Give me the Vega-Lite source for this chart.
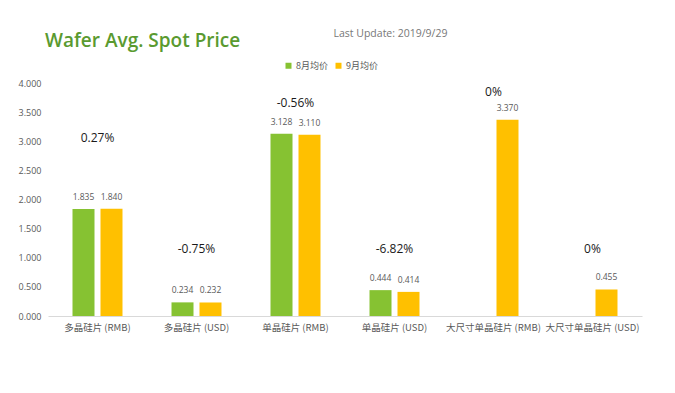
{
  "$schema": "https://vega.github.io/schema/vega-lite/v6.json",
  "width": 594,
  "height": 233,
  "autosize": {"type": "none"},
  "padding": {"left": 48, "top": 83, "right": 33, "bottom": 77},
  "background": "white",
  "title": {
    "text": "Wafer Avg. Spot Price",
    "anchor": "start",
    "frame": "group",
    "dx": -3,
    "offset": 0,
    "dy": 23,
    "font": "Open Sans",
    "fontSize": 19,
    "fontWeight": 600,
    "color": "#5a9a30"
  },
  "config": {
    "view": {"stroke": null},
    "font": "Open Sans"
  },
  "datasets": {
    "prices": [
      {"category": "多晶硅片 (RMB)", "month": "8月均价", "value": 1.835},
      {"category": "多晶硅片 (RMB)", "month": "9月均价", "value": 1.840},
      {"category": "多晶硅片 (USD)", "month": "8月均价", "value": 0.234},
      {"category": "多晶硅片 (USD)", "month": "9月均价", "value": 0.232},
      {"category": "单晶硅片 (RMB)", "month": "8月均价", "value": 3.128},
      {"category": "单晶硅片 (RMB)", "month": "9月均价", "value": 3.110},
      {"category": "单晶硅片 (USD)", "month": "8月均价", "value": 0.444},
      {"category": "单晶硅片 (USD)", "month": "9月均价", "value": 0.414},
      {"category": "大尺寸单晶硅片 (RMB)", "month": "9月均价", "value": 3.370},
      {"category": "大尺寸单晶硅片 (USD)", "month": "9月均价", "value": 0.455}
    ],
    "changes": [
      {"category": "多晶硅片 (RMB)", "pct": "0.27%", "value": 3.06},
      {"category": "多晶硅片 (USD)", "pct": "-0.75%", "value": 1.15},
      {"category": "单晶硅片 (RMB)", "pct": "-0.56%", "value": 3.66},
      {"category": "单晶硅片 (USD)", "pct": "-6.82%", "value": 1.15},
      {"category": "大尺寸单晶硅片 (RMB)", "pct": "0%", "value": 3.85},
      {"category": "大尺寸单晶硅片 (USD)", "pct": "0%", "value": 1.15}
    ]
  },
  "encoding": {
    "x": {
      "field": "category", "type": "nominal", "sort": null,
      "scale": {"paddingInner": 0.495, "paddingOuter": 0.2475},
      "axis": {
        "title": null, "labelAngle": 0, "ticks": false,
        "domainColor": "#d9d9d9", "labelColor": "#595959",
        "labelFont": "Noto Sans CJK SC", "labelFontSize": 9.5,
        "labelPadding": 6
      }
    },
    "y": {
      "field": "value", "type": "quantitative",
      "scale": {"domain": [0, 4], "nice": false},
      "axis": {
        "values": [0, 0.5, 1, 1.5, 2, 2.5, 3, 3.5, 4],
        "labelOverlap": false,
        "format": ".3f", "grid": false, "domain": false, "ticks": false,
        "labelColor": "#595959", "labelFontSize": 9, "labelPadding": 7,
        "title": "Last Update: 2019/9/29",
        "titleAngle": 0, "titleAlign": "left", "titleBaseline": "alphabetic",
        "titleX": 285, "titleY": -47,
        "titleFontSize": 10.5, "titleFontWeight": "normal", "titleColor": "#777777"
      }
    }
  },
  "layer": [
    {
      "data": {"name": "prices"},
      "mark": {"type": "bar"},
      "encoding": {
        "xOffset": {
          "field": "month", "type": "nominal",
          "scale": {"domain": ["8月均价", "9月均价"], "paddingInner": 0.214, "paddingOuter": 0}
        },
        "color": {
          "field": "month", "type": "nominal",
          "scale": {"domain": ["8月均价", "9月均价"], "range": ["#86c232", "#ffc000"]},
          "legend": {
            "title": null, "orient": "none", "direction": "horizontal",
            "legendX": 236, "legendY": -22,
            "symbolType": "square", "symbolSize": 36, "symbolStrokeWidth": 0,
            "labelFont": "Noto Sans CJK SC", "labelFontSize": 9, "labelColor": "#595959",
            "columnPadding": 6, "labelOffset": 3
          }
        }
      }
    },
    {
      "data": {"name": "prices"},
      "mark": {"type": "text", "dy": -7, "baseline": "bottom", "fontSize": 8.5, "color": "#595959"},
      "encoding": {
        "xOffset": {"field": "month", "type": "nominal"},
        "text": {"field": "value", "type": "quantitative", "format": ".3f"}
      }
    },
    {
      "data": {"name": "changes"},
      "mark": {"type": "text", "baseline": "middle", "fontSize": 12, "color": "#1a1a1a"},
      "encoding": {
        "text": {"field": "pct", "type": "nominal"}
      }
    }
  ]
}
